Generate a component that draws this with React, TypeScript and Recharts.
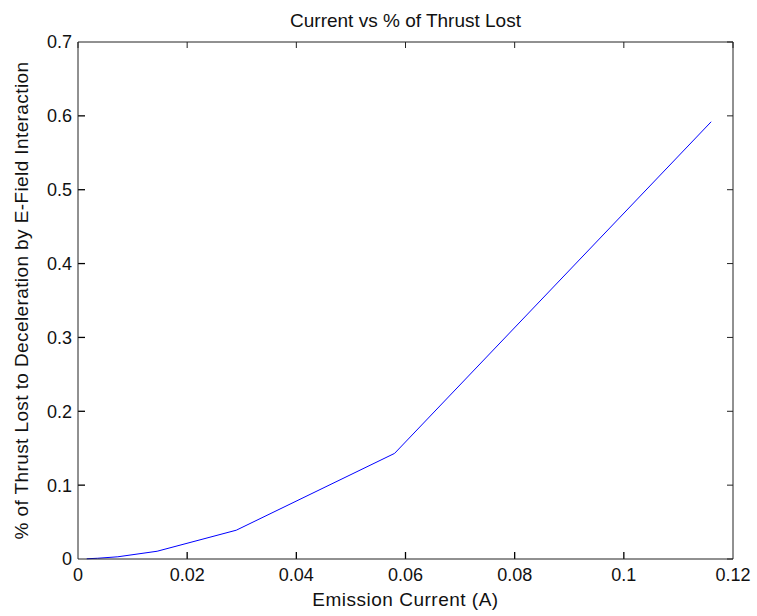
import React from 'react';
import { LineChart, Line, XAxis, YAxis, Label, ReferenceLine } from 'recharts';

// emission current (A) and fraction of thrust lost
const currents = [0.0016, 0.0036, 0.0073, 0.0145, 0.029, 0.058, 0.116];
const thrustLost = [0.0003, 0.001, 0.003, 0.0105, 0.039, 0.143, 0.592];

const xTicks = [0, 0.02, 0.04, 0.06, 0.08, 0.1, 0.12];
const yTicks = [0, 0.1, 0.2, 0.3, 0.4, 0.5, 0.6, 0.7];
const X_MAX = 0.12;
const Y_MAX = 0.7;

const TITLE = 'Current vs % of Thrust Lost';
const X_LABEL = 'Emission Current (A)';
const Y_LABEL = '% of Thrust Lost to Deceleration by E-Field Interaction';

const data = currents.map((c, i) => ({ current: c, lost: thrustLost[i] }));

const FONT = '"Liberation Sans", Arial, Helvetica, sans-serif';
const AXIS = '#222';
const TEXT = '#111';
const TICK_LEN = 6;
const INNER_TICK_LEN = 7;

const CHART_W = 757;
const CHART_H = 616;
const MARGIN = { top: 41, right: 23, bottom: 27, left: 18 };
const X_AXIS_H = 30;
const Y_AXIS_W = 60;
const PLOT_W = CHART_W - MARGIN.left - MARGIN.right - Y_AXIS_W - 1;
const PLOT_H = CHART_H - MARGIN.top - MARGIN.bottom - X_AXIS_H - 1;
// tick length in data units, for the inner ticks on the bottom and left edges
const X_TICK_LEN = (X_MAX * INNER_TICK_LEN) / PLOT_W;
const Y_TICK_LEN = (Y_MAX * INNER_TICK_LEN) / PLOT_H;

const BottomLabel = ({ x, y, payload }: any) => (
  <text x={x} y={y + 9} dy="0.71em" textAnchor="middle" fontFamily={FONT} fontSize={18} fill={TEXT}>
    {String(payload.value)}
  </text>
);

const LeftLabel = ({ x, y, payload }: any) => (
  <text x={x - 6} y={y} dy="0.355em" textAnchor="end" fontFamily={FONT} fontSize={18} fill={TEXT}>
    {String(payload.value)}
  </text>
);

// matlab-style ticks point into the box
const TopTick = ({ x, y }: any) => (
  <path d={`M${x},${y}V${y + TICK_LEN}`} stroke={AXIS} strokeWidth={1} fill="none" />
);

const RightTick = ({ x, y }: any) => (
  <path d={`M${x},${y}H${x - TICK_LEN}`} stroke={AXIS} strokeWidth={1} fill="none" />
);

const App: React.FC = () => {
  return (
    <div style={{ position: 'absolute', left: 0, top: 0, width: CHART_W, height: CHART_H, background: '#fff' }}>
      <LineChart width={CHART_W} height={CHART_H} data={data} margin={MARGIN}>
        <XAxis
          dataKey="current"
          type="number"
          domain={[0, X_MAX]}
          ticks={xTicks}
          height={X_AXIS_H}
          tickSize={0}
          tickMargin={0}
          tick={BottomLabel}
          tickLine={false}
          axisLine={{ stroke: AXIS }}
          interval={0}
        >
          <Label
            content={({ viewBox }: any) => (
              <text
                x={viewBox.x + viewBox.width / 2}
                y={viewBox.y + 47}
                textAnchor="middle"
                fontFamily={FONT}
                fontSize={19}
                letterSpacing={0.5}
                fill={TEXT}
              >
                {X_LABEL}
              </text>
            )}
          />
        </XAxis>
        <XAxis
          xAxisId="top"
          dataKey="current"
          orientation="top"
          type="number"
          domain={[0, X_MAX]}
          ticks={xTicks}
          height={1}
          tickSize={0}
          tickMargin={0}
          tick={TopTick}
          tickLine={false}
          axisLine={{ stroke: AXIS }}
          interval={0}
        >
          <Label
            content={({ viewBox }: any) => (
              <text
                x={viewBox.x + viewBox.width / 2}
                y={27}
                textAnchor="middle"
                fontFamily={FONT}
                fontSize={19}
                fill={TEXT}
              >
                {TITLE}
              </text>
            )}
          />
        </XAxis>
        <YAxis
          type="number"
          domain={[0, Y_MAX]}
          ticks={yTicks}
          width={Y_AXIS_W}
          tickSize={0}
          tickMargin={0}
          tick={LeftLabel}
          tickLine={false}
          axisLine={{ stroke: AXIS }}
          interval={0}
        >
          <Label
            content={({ viewBox }: any) => {
              const cx = 28;
              const cy = viewBox.y + viewBox.height / 2;
              return (
                <text
                  x={cx}
                  y={cy}
                  transform={`rotate(-90, ${cx}, ${cy})`}
                  textAnchor="middle"
                  fontFamily={FONT}
                  fontSize={19}
                  letterSpacing={0.4}
                  fill={TEXT}
                >
                  {Y_LABEL}
                </text>
              );
            }}
          />
        </YAxis>
        <YAxis
          yAxisId="right"
          dataKey="lost"
          orientation="right"
          type="number"
          domain={[0, Y_MAX]}
          ticks={yTicks}
          width={1}
          tickSize={0}
          tickMargin={0}
          tick={RightTick}
          tickLine={false}
          axisLine={{ stroke: AXIS }}
          interval={0}
        />
        {xTicks.slice(1, -1).map((t) => (
          <ReferenceLine
            key={`bx-${t}`}
            segment={[{ x: t, y: 0 }, { x: t, y: Y_TICK_LEN }]}
            stroke="#000"
            strokeWidth={1.3}
          />
        ))}
        {yTicks.slice(1, -1).map((t) => (
          <ReferenceLine
            key={`ly-${t}`}
            segment={[{ x: 0, y: t }, { x: X_TICK_LEN, y: t }]}
            stroke="#000"
            strokeWidth={1.3}
          />
        ))}
        <Line
          type="linear"
          dataKey="lost"
          stroke="#0000ff"
          strokeWidth={1}
          dot={false}
          activeDot={false}
          isAnimationActive={false}
        />
      </LineChart>
    </div>
  );
};

export default App;
